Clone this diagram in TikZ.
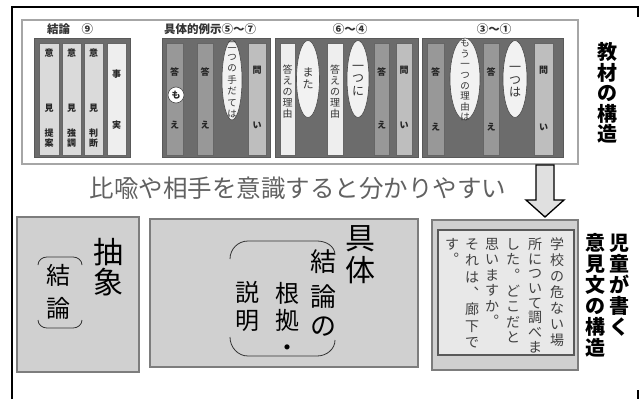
\documentclass[tikz,border=0pt]{standalone}
\usepackage{fontspec}
\setmainfont{Noto Sans CJK JP}
\definecolor{dk}{RGB}{108,108,108}
\definecolor{md}{RGB}{152,152,152}
\definecolor{lt}{RGB}{190,190,190}
\definecolor{pl}{RGB}{218,218,218}
\definecolor{wh}{RGB}{238,238,238}
\definecolor{bx}{RGB}{208,208,208}
\definecolor{bxl}{RGB}{125,125,125}
\definecolor{inr}{RGB}{232,232,232}
\newcommand\vtext[6]{%
  \foreach \ch [count=\i from 0] in {#6}{%
    \node[vch] (#1-\i) at (#2,{#3+\i*#4+0.38*#5}) {\fontsize{#5}{#5}\selectfont\ch};}}
\begin{document}
\begin{tikzpicture}[x=1pt,y=-1pt,
  vch/.style={anchor=base,inner sep=0pt},
  panel/.style={draw=black!35,line width=1.5pt,fill=white},
  grp/.style={draw=black!65,fill=dk,line width=0.6pt},
  bar/.style={draw=black!60,line width=0.5pt},
  ell/.style={draw=black!70,fill=white!95!black,line width=0.6pt},
  lab/.style={inner sep=0pt,font=\bfseries\fontsize{11.5}{11.5}\selectfont,text=black!80},
  bbox/.style={draw=bxl,fill=bx,line width=1.8pt},
  brk/.style={draw=black!80,line width=0.8pt},
  arr/.style={draw=black,fill=black!12,line width=1.3pt}]
\useasboundingbox (0,0) rectangle (640,399);
% outer frame
\draw[line width=2pt] (12,399) -- (12,7) -- (638,7) -- (638,17);
\draw[line width=2pt] (638,390) -- (638,399);
% top panel
\draw[panel] (22,20) rectangle (578,164);
\draw[grp] (34,38) rectangle (130,157);
\draw[grp] (162,38) rectangle (270,157);
\draw[grp] (275,38) rectangle (418,157);
\draw[grp] (422,38) rectangle (563,157);
% bars
\foreach \a/\b/\c in {39/59/pl,62/81/pl,84/103/pl,107/126/wh,
  166/183/md,197/213/md,248/266/lt,
  280/295/wh,327/343/wh,374/389/md,396/412/lt,
  427/444/md,483/499/md,534/553/lt}
  {\draw[bar,fill=\c] (\a,43) rectangle (\b,155);}
% ellipses
\draw[ell] (232,80) ellipse [x radius=10,y radius=40];
\draw[ell] (308,79) ellipse [x radius=11.5,y radius=38.5];
\draw[ell] (358,79) ellipse [x radius=11,y radius=38.5];
\draw[ell] (465,79) ellipse [x radius=15,y radius=41];
\draw[ell] (515,79) ellipse [x radius=12,y radius=38.5];
\draw[ell,fill=white] (176,95) circle [radius=8];
% group labels
\node[lab] (l1) at (70,29) {結論　⑨};
\node[lab] (l2) at (210,29) {具体的例示⑤〜⑦};
\node[lab] (l3) at (350,29) {⑥〜④};
\node[lab] (l4) at (494,29) {③〜①};
% bar texts
\begin{scope}[every node/.append style={font=\bfseries,text=black!85}]
\vtext{a1}{49}{53}{55}{9}{意,見}
\vtext{a2}{71.5}{53}{55}{9}{意,見}
\vtext{a3}{93.5}{53}{55}{9}{意,見}
\vtext{a1b}{49}{133}{10}{9}{提,案}
\vtext{a2b}{71.5}{133}{10}{9}{強,調}
\vtext{a3b}{93.5}{133}{10}{9}{判,断}
\vtext{a4}{116.5}{74}{51}{9}{事,実}
\vtext{b1}{174.5}{72}{53}{9}{答,え}
\vtext{bm}{176}{95}{0}{9}{も}
\vtext{b2}{205}{72}{53}{9}{答,え}
\vtext{b4}{257}{70}{55}{9}{問,い}
\vtext{c3}{381.5}{72}{53}{9}{答,え}
\vtext{c4}{404}{70}{55}{9}{問,い}
\vtext{d1}{435.5}{72}{55}{9}{答,え}
\vtext{d3}{491}{72}{55}{9}{答,え}
\vtext{d5}{543.5}{70}{57}{9}{問,い}
\end{scope}
\begin{scope}[every node/.append style={text=black!80}]
\vtext{b3}{232}{45}{11.5}{9.5}{二,つ,の,手,だ,て,は}
\vtext{c1}{287.5}{70}{10.8}{10}{答,え,の,理,由}
\vtext{c2}{335}{70}{10.8}{10}{答,え,の,理,由}
\vtext{cm}{308}{72}{12}{11}{ま,た}
\vtext{cn}{358}{66}{12.3}{12}{一,つ,に}
\vtext{d2}{465}{43}{10.6}{9.5}{も,う,一,つ,の,理,由,は}
\vtext{d4}{515}{67}{12.5}{12}{一,つ,は}
\end{scope}
% middle text
\node[inner sep=0pt,text=black!62,font=\fontsize{24.5}{24.5}\selectfont] (mid) at (298,188) {比喩や相手を意識すると分かりやすい};
% arrow
\draw[arr] (536,165) -- (554,165) -- (554,200) -- (564,200) -- (545,217) -- (526,200) -- (536,200) -- cycle;
% bottom boxes
\draw[bbox] (17,217) rectangle (139,372);
\draw[bbox] (150,219) rectangle (418,367);
\draw[bbox] (432,220) rectangle (578,370);
\draw[draw=black!65,fill=inr,line width=1.2pt] (438,230) rectangle (574,355);
% right labels
\begin{scope}[every node/.append style={font=\bfseries}]
\vtext{r1}{607}{52}{20.5}{20}{教,材,の,構,造}
\vtext{r2}{619}{243}{21}{20}{児,童,が,書,く}
\vtext{r3}{595}{243}{21}{20}{意,見,文,の,構,造}
\end{scope}
% box A
\vtext{ab}{108}{252}{30}{30}{抽,象}
\vtext{ak}{58}{275}{33}{24}{結,論}
\draw[brk] (38,265) to[out=90,in=180] (47,257) -- (73,257) to[out=0,in=90] (82,265);
\draw[brk] (38,320) to[out=-90,in=180] (47,328) -- (73,328) to[out=0,in=-90] (82,320);
% box B
\vtext{gt}{360}{238}{32}{30}{具,体}
\vtext{bk1}{323}{262}{35}{26}{結,論}
\vtext{bk2}{323}{326}{0}{26}{の}
\vtext{bk3}{287}{293}{27}{24}{根,拠,・}
\vtext{bk4}{247}{292}{28}{24}{説,明}
\draw[brk] (230,259) to[out=90,in=180] (248,241) -- (317,241) to[out=0,in=90] (335,255);
\draw[brk] (230,337) to[out=-90,in=180] (248,356) -- (317,356) to[out=0,in=-90] (335,340);
% box C text
\begin{scope}[every node/.append style={text=black!75}]
\vtext{e1}{557}{244}{16}{14}{学,校,の,危,な,い,場}
\vtext{e2}{535}{244}{14.7}{14}{所,に,つ,い,て,調,べ,ま}
\vtext{e3}{513}{244}{15.6}{14}{し,た,︒,ど,こ,だ,と}
\vtext{e4}{492}{244}{15.5}{14}{思,い,ま,す,か,︒}
\vtext{e5}{472}{244}{16.4}{14}{そ,れ,は,︑,廊,下,で}
\vtext{e6}{452}{244}{15.5}{14}{す,︒}
\end{scope}
\end{tikzpicture}
\end{document}
